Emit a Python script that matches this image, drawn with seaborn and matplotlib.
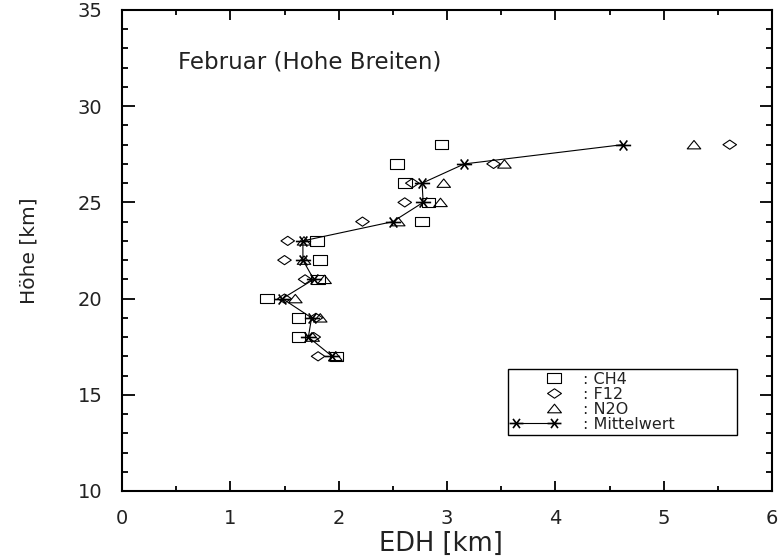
import numpy as np
import pandas as pd
import seaborn as sns
import matplotlib
matplotlib.use("Agg")
import matplotlib.pyplot as plt
from matplotlib.lines import Line2D
from matplotlib.path import Path
from matplotlib.legend_handler import HandlerLine2D
from matplotlib.ticker import MultipleLocator

# Equivalent latitude width profiles, February, high latitudes
hoehe = [17, 18, 19, 20, 21, 22, 23, 24, 25, 26, 27, 28]
edh_ch4 = [1.98, 1.63, 1.63, 1.34, 1.81, 1.83, 1.80, 2.77, 2.83, 2.61, 2.54, 2.95]
edh_f12 = [1.81, 1.77, 1.79, 1.50, 1.69, 1.50, 1.53, 2.22, 2.61, 2.68, 3.43, 5.61]
edh_n2o = [1.97, 1.76, 1.83, 1.60, 1.87, 1.68, 1.68, 2.55, 2.94, 2.97, 3.53, 5.28]
edh_mittel = [1.94, 1.72, 1.75, 1.48, 1.77, 1.67, 1.67, 2.50, 2.78, 2.77, 3.16, 4.62]

labels = [": CH4", ": F12", ": N2O", ": Mittelwert"]
title_text = "Februar (Hohe Breiten)"

df = pd.DataFrame({"hoehe": hoehe, "ch4": edh_ch4, "f12": edh_f12,
                   "n2o": edh_n2o, "mittel": edh_mittel})

sns.set_style("ticks")
plt.rcParams["font.family"] = ["DejaVu Sans"]
plt.rcParams["path.simplify"] = False
TXT = "#222222"

# flattened open symbols (wider than tall)
sq = Path([(-1, -0.7), (1, -0.7), (1, 0.7), (-1, 0.7), (-1, -0.7)],
          [Path.MOVETO, Path.LINETO, Path.LINETO, Path.LINETO, Path.CLOSEPOLY])
dia = Path([(-1, 0), (0, 0.68), (1, 0), (0, -0.68), (-1, 0)],
           [Path.MOVETO, Path.LINETO, Path.LINETO, Path.LINETO, Path.CLOSEPOLY])
tri = Path([(-1, -0.62), (1, -0.62), (0, 0.62), (-1, -0.62)],
           [Path.MOVETO, Path.LINETO, Path.LINETO, Path.CLOSEPOLY])
# six-armed asterisk, arms drawn outward from the centre
c, s = 0.5, 0.66
arms = [(1, 0), (-1, 0), (c, s), (-c, -s), (-c, s), (c, -s)]
star_v, star_c = [], []
for a in arms:
    star_v += [(0, 0), a]
    star_c += [Path.MOVETO, Path.LINETO]
star = Path(star_v, star_c)


class RightMarkerHandler(HandlerLine2D):
    """Single legend symbol placed at the right end of the handle box."""

    def get_xdata(self, legend, xdescent, ydescent, width, height, fontsize):
        pad = self._marker_pad * fontsize
        x = np.array([-xdescent + width - pad])
        return x, x


fig = plt.figure(figsize=(7.83, 5.58), dpi=100)
ax = fig.add_axes([122 / 783, 1 - 491 / 558, 650 / 783, 481 / 558])

mk = dict(facecolor="none", edgecolor="black", linewidth=0.8, s=95, legend=False)
sns.scatterplot(data=df, x="ch4", y="hoehe", marker=sq, ax=ax, **mk)
sns.scatterplot(data=df, x="f12", y="hoehe", marker=dia, ax=ax, **mk)
sns.scatterplot(data=df, x="n2o", y="hoehe", marker=tri, ax=ax, **mk)
sns.lineplot(data=df, x="mittel", y="hoehe", sort=False, estimator=None,
             color="black", lw=0.8, marker=star, markersize=11,
             markeredgewidth=1.2, markerfacecolor="none",
             markeredgecolor="black", ax=ax, legend=False)

ax.set_xlim(0, 6)
ax.set_ylim(10, 35)
ax.xaxis.set_major_locator(MultipleLocator(1))
ax.xaxis.set_minor_locator(MultipleLocator(0.5))
ax.yaxis.set_major_locator(MultipleLocator(5))
ax.yaxis.set_minor_locator(MultipleLocator(1))
ax.tick_params(which="both", direction="in", top=True, right=True,
               width=1.3, color="black", labelcolor=TXT, labelsize=14)
ax.tick_params(axis="x", which="major", length=7, pad=13)
ax.tick_params(axis="x", which="minor", length=3.5)
ax.tick_params(axis="y", which="major", length=9, pad=14)
ax.tick_params(axis="y", which="minor", length=4.5)
for sp in ax.spines.values():
    sp.set_linewidth(1.5)
    sp.set_color("black")

ax.set_xlabel("EDH [km]", fontsize=18.5, color=TXT)
ax.set_ylabel("Höhe [km]", fontsize=14.5, color=TXT)
ax.xaxis.set_label_coords(0.49, -0.083)
ax.yaxis.set_label_coords(-0.128, 0.5)

ax.text(0.52, 32.3, title_text, fontsize=16.5, color=TXT, va="center", ha="left")

mkw = dict(markersize=10, mfc="none", mec="black")
handles = [
    Line2D([], [], ls="none", marker=sq, mew=0.8, **mkw),
    Line2D([], [], ls="none", marker=dia, mew=0.8, **mkw),
    Line2D([], [], ls="none", marker=tri, mew=0.8, **mkw),
    Line2D([], [], color="black", lw=0.8, marker=star, mew=1.2, **mkw),
]
hmap = {h: RightMarkerHandler(numpoints=2) for h in handles[:3]}
hmap[handles[3]] = HandlerLine2D(numpoints=2)
leg = ax.legend(handles, labels, handler_map=hmap,
                loc="upper left", bbox_to_anchor=(0.594, 0.0, 0.352, 0.254),
                mode="expand", fontsize=11.5, frameon=True,
                fancybox=False, framealpha=1, edgecolor="black",
                borderpad=0.2, labelspacing=0.0, handlelength=3.0,
                handletextpad=1.5, borderaxespad=0)
leg.get_frame().set_linewidth(1.0)
for t in leg.get_texts():
    t.set_color(TXT)

fig.savefig("out.png", dpi=100)
